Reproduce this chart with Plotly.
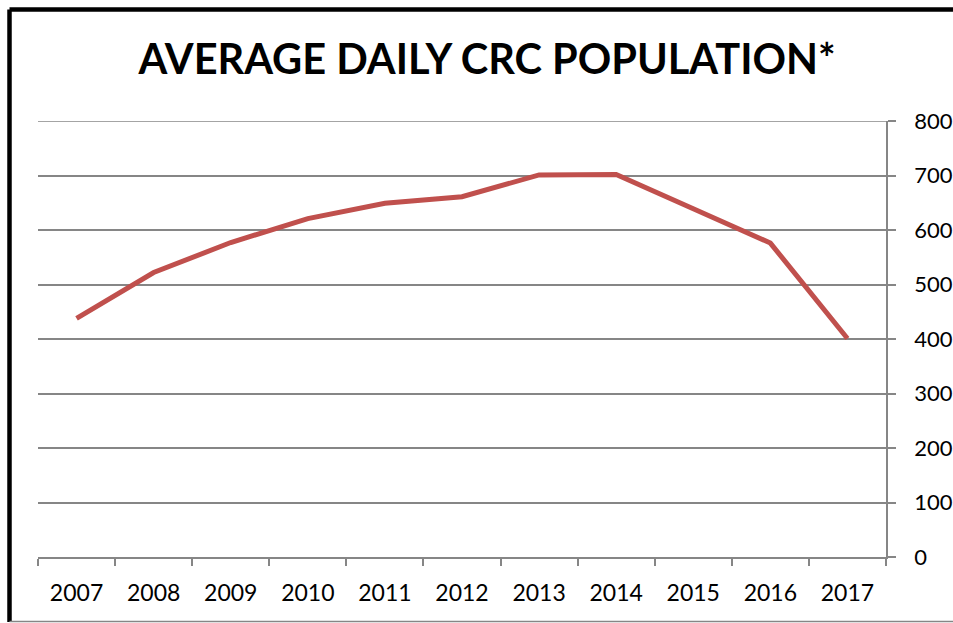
import plotly.graph_objects as go

years = ["2007", "2008", "2009", "2010", "2011", "2012", "2013", "2014", "2015", "2016", "2017"]
population = [438, 522, 577, 621, 649, 661, 701, 702, 639, 576, 401]
y_ticks = [0, 100, 200, 300, 400, 500, 600, 700, 800]

W, H = 953, 623
L, R, T, B = 38, 886, 121, 557  # plot area in pixels


def px(x):
    return (x - L) / (R - L)


def py(y):
    return (B - y) / (B - T)


fig = go.Figure()
fig.add_trace(go.Scatter(
    x=years, y=population, mode="lines",
    line=dict(color="#C0504D", width=5),
    hoverinfo="x+y", showlegend=False,
))

grid = "#868686"
fig.update_layout(
    width=W, height=H,
    margin=dict(l=L, r=W - R, t=T, b=H - B, autoexpand=False),
    paper_bgcolor="white", plot_bgcolor="white",
    font=dict(family="Lato, 'Open Sans', sans-serif", color="black"),
    title=dict(
        text="<b>AVERAGE DAILY CRC POPULATION*</b>",
        font=dict(size=41.5, family="Lato, 'Open Sans', sans-serif", color="black"),
        x=487 / W, xanchor="center", y=1 - 59 / H, yanchor="middle",
    ),
    xaxis=dict(
        type="category", tickson="boundaries", automargin=False,
        showgrid=False, showline=True, linecolor=grid, linewidth=1.5,
        ticks="outside", ticklen=7, tickcolor=grid, tickwidth=1.5,
        tickfont=dict(size=23), ticklabelstandoff=15,
        range=[-0.5, len(years) - 0.5], zeroline=False,
    ),
    yaxis=dict(
        side="right", range=[y_ticks[0], y_ticks[-1]], tickvals=y_ticks,
        automargin=False,
        showgrid=True, gridcolor=grid, gridwidth=1.5,
        showline=True, linecolor=grid, linewidth=1.5,
        ticks="outside", ticklen=8, tickcolor=grid, tickwidth=1.5,
        tickfont=dict(size=22), ticklabelstandoff=14, zeroline=False,
    ),
)

# top gridline (plotly drops the gridline that sits on the plot edge)
fig.add_shape(type="line", xref="paper", yref="y",
              x0=0, x1=1, y0=y_ticks[-1], y1=y_ticks[-1],
              line=dict(color=grid, width=1.5), layer="below")

# outer chart border (cropped at right/bottom in the reference)
fig.add_shape(type="line", xref="paper", yref="paper",
              x0=px(9.5), x1=px(960), y0=py(9.5), y1=py(9.5),
              line=dict(color="black", width=4.5), layer="above")
fig.add_shape(type="line", xref="paper", yref="paper",
              x0=px(9.5), x1=px(9.5), y0=py(9.5), y1=py(622),
              line=dict(color="black", width=4.5), layer="above")
fig.add_shape(type="line", xref="paper", yref="paper",
              x0=px(9.5), x1=px(960), y0=py(621.5), y1=py(621.5),
              line=dict(color=grid, width=1.5), layer="above")

fig.write_html(
    "out.html", config={"displayModeBar": False},
    post_script=(
        "document.body.style.margin='0';"
        "document.body.style.overflow='hidden';"
        "document.documentElement.style.overflow='hidden';"
    ),
)
